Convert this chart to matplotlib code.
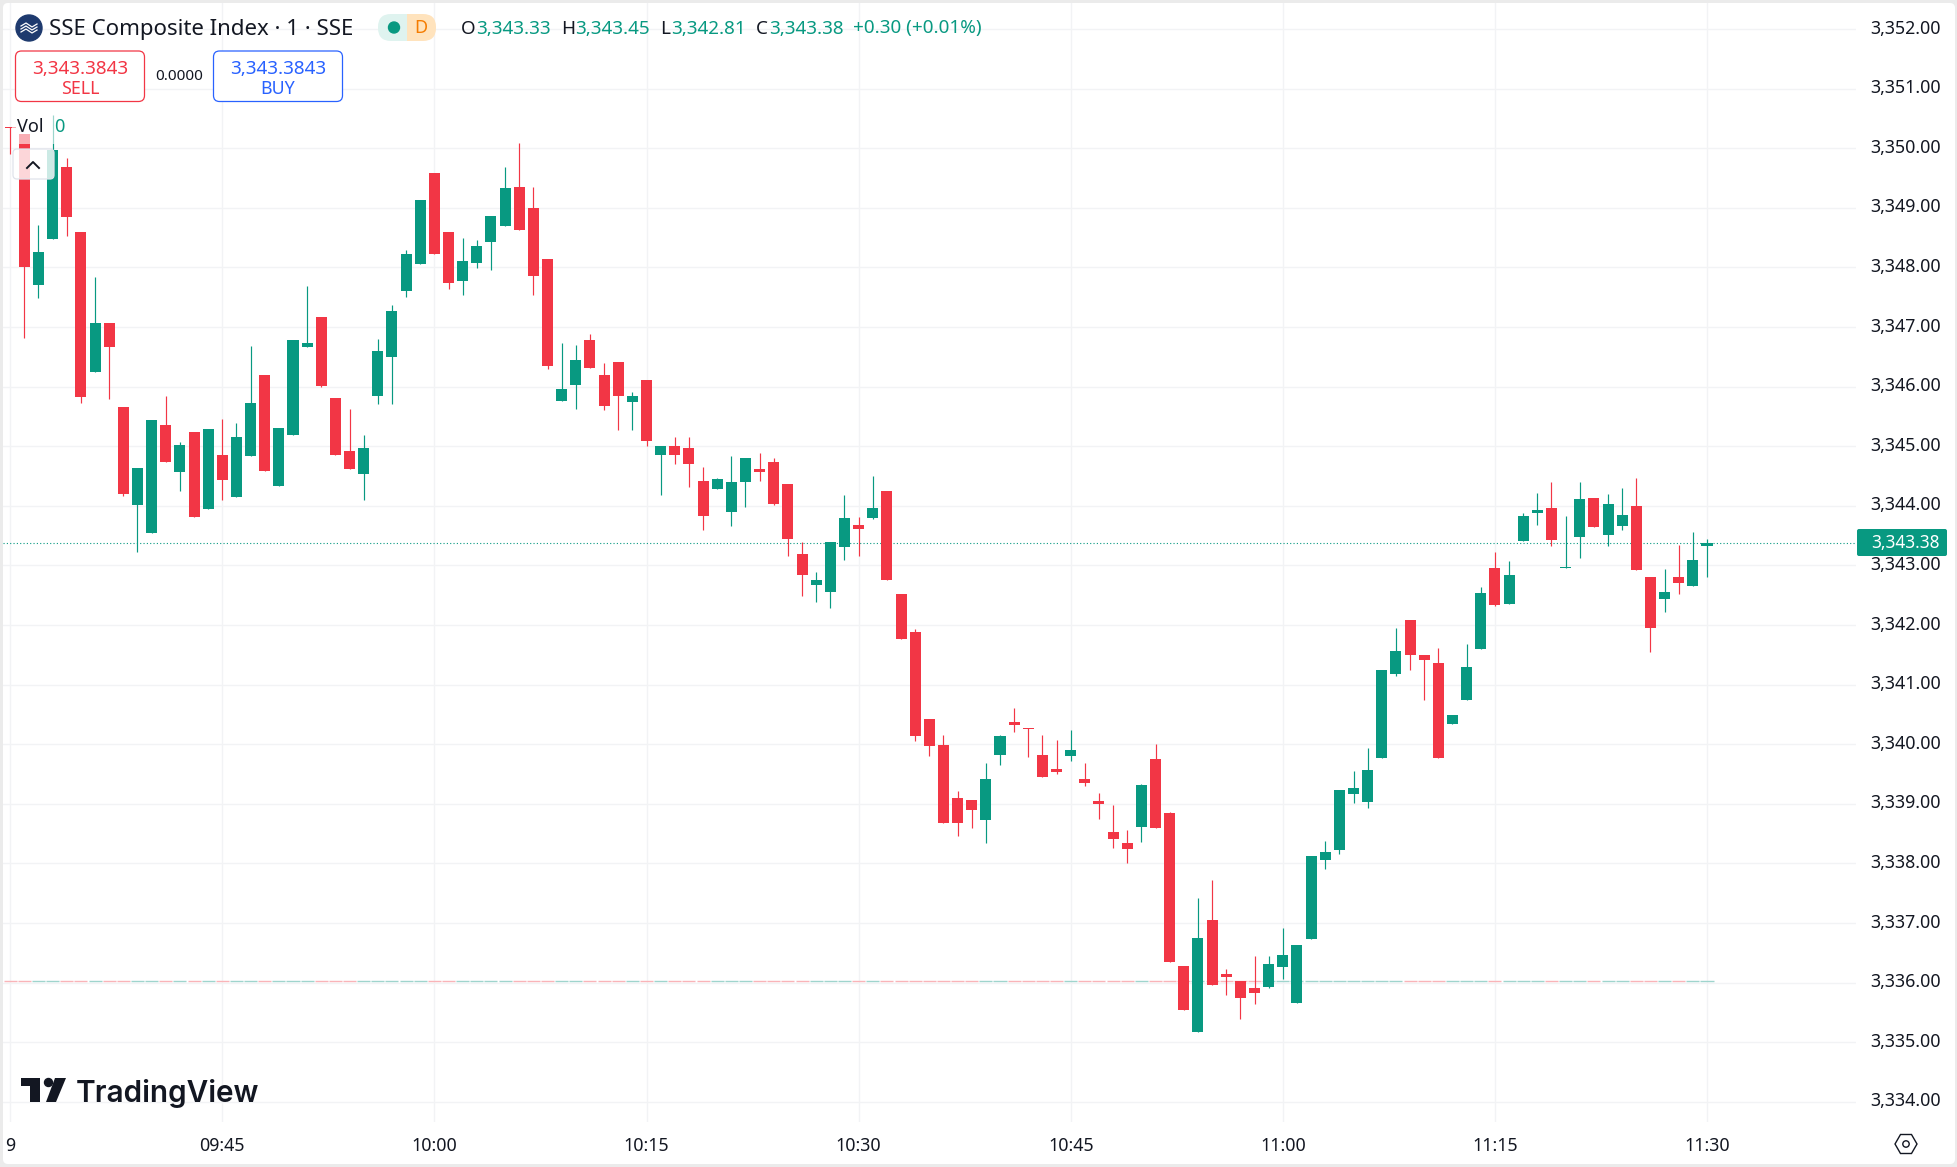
import matplotlib
matplotlib.use("Agg")
import matplotlib.pyplot as plt
from matplotlib.patches import Circle, FancyBboxPatch, Polygon, Rectangle
from matplotlib.ticker import FuncFormatter
from matplotlib.transforms import ScaledTranslation

W, H = 1957, 1167

opens = [3350.36, 3350.23, 3347.71, 3348.47, 3349.69, 3348.59, 3346.24, 3347.07, 3345.66, 3344.02,
         3343.55, 3345.36, 3344.57, 3345.24, 3343.95, 3344.85, 3344.14, 3344.84, 3346.20, 3344.34,
         3345.19, 3346.67, 3347.17, 3345.81, 3344.92, 3344.54, 3345.85, 3346.49, 3347.61, 3348.06,
         3349.59, 3348.59, 3347.78, 3348.08, 3348.43, 3348.69, 3349.35, 3348.99, 3348.14, 3345.76,
         3346.03, 3346.78, 3346.19, 3346.41, 3345.74, 3346.11, 3344.85, 3345.00, 3344.97, 3344.42,
         3344.28, 3343.90, 3344.40, 3344.62, 3344.74, 3344.37, 3343.19, 3342.67, 3342.55, 3343.31,
         3343.68, 3343.80, 3344.25, 3342.52, 3341.88, 3340.42, 3339.99, 3339.10, 3339.06, 3338.73,
         3339.82, 3340.37, 3340.27, 3339.82, 3339.58, 3339.80, 3339.41, 3339.05, 3338.53, 3338.34,
         3338.61, 3339.75, 3338.84, 3336.28, 3335.17, 3337.05, 3336.15, 3336.03, 3335.91, 3335.93,
         3336.26, 3335.66, 3336.73, 3338.06, 3338.23, 3339.16, 3339.03, 3339.77, 3341.18, 3342.09,
         3341.50, 3341.36, 3340.34, 3340.74, 3341.60, 3342.96, 3342.36, 3343.41, 3343.88, 3343.96,
         3342.96, 3343.48, 3344.13, 3343.51, 3343.66, 3344.00, 3342.80, 3342.44, 3342.80, 3342.66,
         3343.33]
highs = [3350.36, 3350.23, 3348.71, 3350.56, 3349.84, 3348.59, 3347.84, 3347.07, 3345.66, 3344.64,
         3345.44, 3345.84, 3345.07, 3345.24, 3345.29, 3345.46, 3345.39, 3346.68, 3346.20, 3345.31,
         3346.78, 3347.69, 3347.17, 3345.81, 3345.63, 3345.19, 3346.80, 3347.37, 3348.29, 3349.13,
         3349.59, 3348.59, 3348.49, 3348.46, 3348.86, 3349.68, 3350.09, 3349.35, 3348.14, 3346.73,
         3346.70, 3346.88, 3346.40, 3346.41, 3345.91, 3346.11, 3345.00, 3345.15, 3345.15, 3344.65,
         3344.47, 3344.84, 3344.80, 3344.89, 3344.80, 3344.37, 3343.39, 3342.89, 3343.39, 3344.18,
         3343.81, 3344.50, 3344.25, 3342.52, 3341.93, 3340.42, 3340.15, 3339.22, 3339.06, 3339.68,
         3340.15, 3340.61, 3340.27, 3340.15, 3340.07, 3340.24, 3339.68, 3339.18, 3338.98, 3338.56,
         3339.33, 3340.01, 3338.86, 3336.28, 3337.42, 3337.72, 3336.23, 3336.03, 3336.45, 3336.45,
         3336.92, 3336.63, 3338.12, 3338.37, 3339.23, 3339.55, 3339.93, 3341.24, 3341.95, 3342.09,
         3341.50, 3341.62, 3340.49, 3341.68, 3342.64, 3343.22, 3343.07, 3343.88, 3344.22, 3344.40,
         3343.83, 3344.40, 3344.13, 3344.20, 3344.30, 3344.47, 3342.80, 3342.94, 3343.34, 3343.56,
         3343.45]
lows = [3349.90, 3346.82, 3347.48, 3348.47, 3348.53, 3345.73, 3346.24, 3345.80, 3344.17, 3343.23,
        3343.55, 3344.73, 3344.25, 3343.82, 3343.95, 3344.10, 3344.14, 3344.84, 3344.59, 3344.34,
        3345.19, 3346.67, 3346.00, 3344.86, 3344.61, 3344.10, 3345.71, 3345.71, 3347.51, 3348.06,
        3348.23, 3347.63, 3347.54, 3347.99, 3347.95, 3348.69, 3348.63, 3347.54, 3346.30, 3345.76,
        3345.62, 3346.31, 3345.61, 3345.27, 3345.27, 3345.00, 3344.18, 3344.70, 3344.31, 3343.59,
        3344.28, 3343.66, 3343.98, 3344.42, 3344.01, 3343.16, 3342.49, 3342.39, 3342.28, 3343.09,
        3343.16, 3343.78, 3342.75, 3341.77, 3340.06, 3339.80, 3338.68, 3338.46, 3338.59, 3338.35,
        3339.65, 3340.20, 3339.79, 3339.45, 3339.50, 3339.71, 3339.30, 3338.75, 3338.26, 3338.01,
        3338.36, 3338.59, 3336.35, 3335.54, 3335.17, 3335.96, 3335.79, 3335.39, 3335.64, 3335.91,
        3336.06, 3335.66, 3336.73, 3337.91, 3338.16, 3339.01, 3338.93, 3339.77, 3341.15, 3341.24,
        3340.74, 3339.77, 3340.34, 3340.74, 3341.60, 3342.32, 3342.36, 3343.41, 3343.68, 3343.33,
        3342.95, 3343.13, 3343.65, 3343.33, 3343.60, 3342.92, 3341.55, 3342.22, 3342.52, 3342.66,
        3342.81]
closes = [3350.34, 3348.01, 3348.26, 3349.97, 3348.85, 3345.82, 3347.07, 3346.67, 3344.19, 3344.64,
          3345.44, 3344.73, 3345.02, 3343.82, 3345.29, 3344.44, 3345.16, 3345.73, 3344.59, 3345.31,
          3346.78, 3346.73, 3346.01, 3344.86, 3344.61, 3344.97, 3346.60, 3347.27, 3348.23, 3349.13,
          3348.23, 3347.74, 3348.11, 3348.36, 3348.86, 3349.33, 3348.63, 3347.86, 3346.35, 3345.96,
          3346.45, 3346.31, 3345.67, 3345.84, 3345.84, 3345.09, 3345.00, 3344.85, 3344.70, 3343.83,
          3344.45, 3344.40, 3344.80, 3344.57, 3344.03, 3343.44, 3342.84, 3342.75, 3343.39, 3343.80,
          3343.61, 3343.96, 3342.75, 3341.77, 3340.14, 3339.97, 3338.68, 3338.68, 3338.89, 3339.41,
          3340.14, 3340.32, 3340.25, 3339.45, 3339.54, 3339.90, 3339.35, 3339.00, 3338.41, 3338.24,
          3339.32, 3338.59, 3336.35, 3335.54, 3336.75, 3335.96, 3336.10, 3335.74, 3335.83, 3336.31,
          3336.46, 3336.63, 3338.12, 3338.19, 3339.23, 3339.27, 3339.57, 3341.24, 3341.57, 3341.50,
          3341.41, 3339.77, 3340.49, 3341.30, 3342.53, 3342.34, 3342.84, 3343.83, 3343.93, 3343.43,
          3342.98, 3344.11, 3343.65, 3344.03, 3343.84, 3342.92, 3341.95, 3342.55, 3342.70, 3343.09,
          3343.38]
# the volume pane is collapsed, every bar reads 0 on the 3,336 line
volumes = [0] * len(opens)

price_ticks = list(range(3334, 3353))
time_ticks = [0, 15, 30, 45, 60, 75, 90, 105, 120]
time_labels = ["9", "09:45", "10:00", "10:15", "10:30", "10:45", "11:00", "11:15", "11:30"]

last_price = 3343.38
vol_base = 3336.02

GREEN = "#089981"
RED = "#f23645"
BLUE = "#2962ff"
TEXT = "#131722"
FONT = "Noto Sans"

plt.rcParams["font.family"] = FONT

# pixel calibration of the pane, bar 0 at x=10.2, 3350 at y=148.2
BAR_PX = 14.14
UNIT_PX = 59.6
L, R, T, B = 3, 1856, 3, 1122


def bar_at(px):
    return (px - 10.2) / BAR_PX


def price_at(py):
    return 3350 - (py - 148.2) / UNIT_PX


def render_chart(fig):
    ax = fig.add_axes([L / W, 1 - B / H, (R - L) / W, (B - T) / H], zorder=1)
    ax.patch.set_alpha(0)
    ax.set_xlim(bar_at(L), bar_at(R))
    ax.set_ylim(price_at(B), price_at(T))
    for s in ax.spines.values():
        s.set_visible(False)

    ax.yaxis.tick_right()
    ax.set_yticks(price_ticks)
    ax.yaxis.set_major_formatter(FuncFormatter(lambda v, _: f"{v:,.2f}"))
    ax.set_xticks(time_ticks)
    ax.set_xticklabels(time_labels)
    ax.tick_params(axis="y", length=0, pad=10.5, labelsize=12.8, labelcolor=TEXT)
    ax.tick_params(axis="x", length=0, pad=11, labelsize=12.8, labelcolor=TEXT)
    # labels sit a touch above their gridline
    up = ScaledTranslation(0, 2.5 / 100, fig.dpi_scale_trans)
    for t in ax.get_yticklabels():
        t.set_transform(t.get_transform() + up)
    ax.grid(True, color="#f2f3f5", lw=1.0)
    ax.set_axisbelow(True)

    ax.axhline(last_price, color=GREEN, lw=0.8, ls=(0, (1, 2)), zorder=1.5)

    bars = list(range(len(opens)))
    colors = [GREEN if c >= o else RED for o, c in zip(opens, closes)]
    pale = ["#9fd4cd" if c == GREEN else "#f9b4b8" for c in colors]

    ax.hlines([vol_base + v for v in volumes], [b - 0.46 for b in bars], [b + 0.46 for b in bars],
              colors=pale, lw=1.0, zorder=1.8)
    ax.vlines(bars, lows, highs, colors=colors, lw=0.85, zorder=2)
    ax.bar(bars, [abs(c - o) for o, c in zip(opens, closes)], bottom=[min(o, c) for o, c in zip(opens, closes)],
           width=0.778, color=colors, lw=0, zorder=3)
    return ax


def render_ui(fig):
    ui = fig.add_axes([0, 0, 1, 1], zorder=2)
    ui.set_xlim(0, W)
    ui.set_ylim(H, 0)
    ui.axis("off")
    ui.patch.set_alpha(0)

    # title row
    ui.add_patch(Circle((29, 28), 13, color="#1e3a6e"))
    for dy in (-3, 0, 3):
        ui.plot([21, 26, 32, 37], [29 + dy, 26 + dy, 30 + dy, 27 + dy], color="white", lw=0.9)
    ui.text(49, 29, "SSE Composite Index · 1 · SSE", fontsize=16, color=TEXT, va="center")

    ui.add_patch(FancyBboxPatch((407, 14), 29, 27, boxstyle="round,pad=0,rounding_size=13", fc="#ffe3bd", lw=0))
    ui.add_patch(FancyBboxPatch((378, 14), 30, 27, boxstyle="round,pad=0,rounding_size=13", fc="#dff3ef", lw=0))
    ui.add_patch(Rectangle((395, 14), 12, 27, fc="#dff3ef", lw=0))
    ui.add_patch(Rectangle((407, 14), 15, 27, fc="#ffe3bd", lw=0))
    ui.add_patch(Circle((394, 27.5), 5.5, color=GREEN))
    ui.text(421, 28, "D", fontsize=13, color="#f57c00", ha="center", va="center")

    for x, s in [(461, "O"), (561, "H"), (660, "L"), (756, "C")]:
        ui.text(x, 28.5, s, fontsize=13.6, color=TEXT, va="center")
    for x, s in [(476, "3,343.33"), (575, "3,343.45"), (671, "3,342.81"), (769, "3,343.38"), (853, "+0.30 (+0.01%)")]:
        ui.text(x, 28.5, s, fontsize=13.6, color=GREEN, va="center")

    # sell / buy boxes
    ui.add_patch(FancyBboxPatch((15.5, 51), 129, 50.5, boxstyle="round,pad=0,rounding_size=6", fc="white", ec=RED, lw=0.9))
    ui.add_patch(FancyBboxPatch((213.5, 51), 129, 50.5, boxstyle="round,pad=0,rounding_size=6", fc="white", ec=BLUE, lw=0.9))
    ui.text(80, 68.5, "3,343.3843", fontsize=13.6, color=RED, ha="center", va="center")
    ui.text(80, 89, "SELL", fontsize=12.8, color=RED, ha="center", va="center")
    ui.text(179, 76, "0.0000", fontsize=11, color=TEXT, ha="center", va="center")
    ui.text(278, 68.5, "3,343.3843", fontsize=13.6, color=BLUE, ha="center", va="center")
    ui.text(278, 89, "BUY", fontsize=12.8, color=BLUE, ha="center", va="center")

    # Vol legend row and collapse button sit on top of the candles
    ui.add_patch(Rectangle((12, 114), 58, 30, fc="white", alpha=0.6, lw=0))
    ui.text(17, 127.5, "Vol", fontsize=13, color=TEXT, va="center")
    ui.text(54, 127.5, "0", fontsize=13, color=GREEN, va="center")
    ui.add_patch(FancyBboxPatch((13, 149), 41, 30, boxstyle="round,pad=0,rounding_size=4", fc=(1, 1, 1, 0.8), ec="#e0e3eb", lw=0.9))
    ui.plot([27, 33, 39], [168, 162, 168], color=TEXT, lw=1.4)

    # price tag
    ui.add_patch(FancyBboxPatch((1857, 529), 90, 27, boxstyle="round,pad=0,rounding_size=2", fc=GREEN, lw=0))
    ui.text(1905.5, 542.5, f"{last_price:,.2f}", fontsize=12.4, color="white", ha="center", va="center", fontweight="bold")

    # TradingView logo
    ui.add_patch(Polygon([(21, 1078), (40, 1078), (40, 1102), (30, 1102), (30, 1086), (21, 1086)], color="#131722", lw=0))
    ui.add_patch(Circle((48.5, 1082.5), 4, color="#131722"))
    ui.add_patch(Polygon([(55, 1078), (66, 1078), (56, 1102), (46, 1102)], color="#131722", lw=0))
    ui.text(76, 1101.5, "TradingView", fontsize=21.4, family="Inter", fontweight="semibold", color="#131722", va="baseline")

    # settings hexagon
    hx, hy = 1906, 1144
    ui.add_patch(Polygon([(hx - 11, hy), (hx - 5.5, hy - 9.5), (hx + 5.5, hy - 9.5), (hx + 11, hy), (hx + 5.5, hy + 9.5), (hx - 5.5, hy + 9.5)],
                         closed=True, fc="none", ec=TEXT, lw=1.0))
    ui.add_patch(Circle((hx, hy), 3.2, fc="none", ec=TEXT, lw=1.0))


def main():
    fig = plt.figure(figsize=(W / 100, H / 100), dpi=100, facecolor="#ebebeb")
    bg = fig.add_axes([0, 0, 1, 1], zorder=0)
    bg.set_xlim(0, W)
    bg.set_ylim(H, 0)
    bg.axis("off")
    bg.add_patch(FancyBboxPatch((3, 3), W - 5, H - 6, boxstyle="round,pad=0,rounding_size=5", fc="white", lw=0))

    render_chart(fig)
    render_ui(fig)
    fig.savefig("out.png", dpi=100, facecolor=fig.get_facecolor())


if __name__ == "__main__":
    main()
